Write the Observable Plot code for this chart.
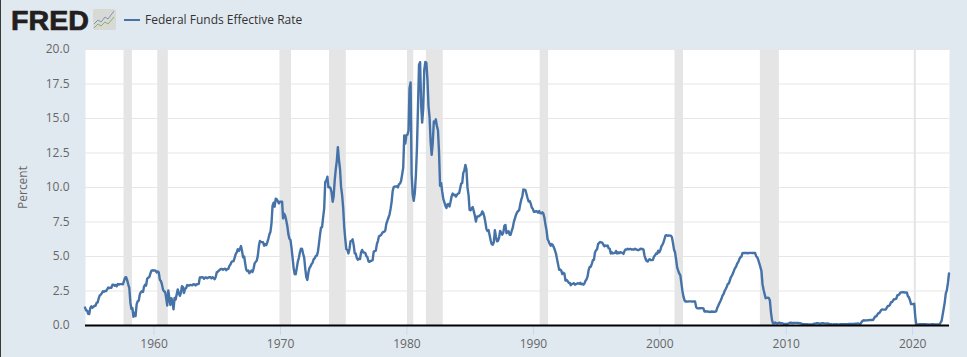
<!DOCTYPE html>
<html>
<head>
<meta charset="utf-8">
<script src="https://cdn.jsdelivr.net/npm/d3@7"></script>
<script src="https://cdn.jsdelivr.net/npm/@observablehq/plot@0.6"></script>
<style>
html,body{margin:0;padding:0;background:#e1e9f0;width:967px;height:357px;overflow:hidden}
#page{position:relative;width:967px;height:357px;background:#e1e9f0;box-sizing:border-box}
#edge{position:absolute;left:0;top:0;width:1px;height:357px;background:#3a3a3a}
#head{position:relative;height:41px}
#fred{position:absolute;left:11px;top:3px;font:bold 27px/36px "Liberation Sans",sans-serif;color:#231f20;-webkit-text-stroke:0.7px #231f20;transform-origin:left top;transform:scaleX(1.06)}
#icon{position:absolute;left:93px;top:9px}
#swatch{position:absolute;left:124px;top:19px;width:16px;height:2px;background:#4572a7}
#legend{position:absolute;left:145px;top:10px;font:12px/20px "Open Sans",sans-serif;color:#333}
#chart svg{display:block;background:transparent;overflow:visible}
</style>
</head>
<body>
<div id="page">
  <div id="edge"></div>
  <div id="head">
    <div id="fred">FRED</div>
    <svg id="icon" width="23" height="21" viewBox="0 0 23 21">
      <rect x="0" y="0" width="23" height="21" rx="2" fill="#d8d9d4"/>
      <polyline points="1,15 5,11 8,13 12,8 15,10 21,2" fill="none" stroke="#7d97b8" stroke-width="1"/>
      <polyline points="1,19 5,15 8,17 12,13 15,15 21,8" fill="none" stroke="#8fae6d" stroke-width="1"/>
    </svg>
    <div id="swatch"></div>
    <div id="legend">Federal Funds Effective Rate</div>
  </div>
  <div id="chart"></div>
</div>
<script>
const seriesName = "Federal Funds Effective Rate";
const yearTicks = [1960,1970,1980,1990,2000,2010,2020];
const valueTicks = [0,2.5,5,7.5,10,12.5,15,17.5,20];
const startYear = 1954, startMonth = 6;
const rates = [
1.30,1.10,1.07,0.85,0.83,1.28,
1.39,1.29,1.35,1.43,1.43,1.64,1.68,1.96,2.18,2.24,2.35,2.48,
2.45,2.50,2.50,2.62,2.75,2.71,2.75,2.73,2.95,2.96,2.88,2.94,
2.84,3.00,2.96,3.00,3.00,3.00,2.99,3.24,3.47,3.50,3.28,2.98,
2.72,1.67,1.20,1.26,0.63,0.93,0.68,1.53,1.76,1.80,2.27,2.42,
2.48,2.43,2.80,2.96,2.90,3.39,3.47,3.50,3.76,3.98,4.00,3.99,
3.99,3.97,3.84,3.92,3.85,3.32,3.23,2.98,2.60,2.47,2.44,1.98,
1.45,2.54,2.02,1.49,1.98,1.73,1.17,2.00,1.88,2.26,2.62,2.33,
2.15,2.37,2.85,2.78,2.36,2.68,2.71,2.93,2.90,2.90,2.94,2.93,
2.92,3.00,2.98,2.90,3.00,2.99,3.02,3.49,3.48,3.50,3.48,3.38,
3.48,3.48,3.43,3.47,3.50,3.50,3.42,3.50,3.45,3.36,3.52,3.85,
3.90,3.98,4.04,4.09,4.10,4.04,4.09,4.12,4.01,4.08,4.10,4.32,
4.42,4.60,4.65,4.67,4.90,5.17,5.30,5.53,5.40,5.53,5.76,5.40,
4.94,5.00,4.53,4.05,3.94,3.98,3.79,3.90,3.99,3.88,4.13,4.51,
4.61,4.71,5.05,5.76,6.12,6.07,6.03,6.03,5.78,5.91,5.82,6.02,
6.30,6.61,6.79,7.41,8.67,8.90,8.61,9.19,9.15,9.00,8.85,8.97,
8.98,8.98,7.76,8.10,7.95,7.61,7.21,6.62,6.29,6.20,5.60,4.90,
4.14,3.72,3.71,4.16,4.63,4.91,5.31,5.57,5.55,5.20,4.91,4.14,
3.51,3.30,3.83,4.17,4.27,4.46,4.55,4.80,4.87,5.04,5.06,5.33,
5.94,6.58,7.09,7.12,7.84,8.49,10.40,10.50,10.78,10.01,10.03,9.95,
9.65,8.97,9.35,10.51,11.31,11.93,12.92,12.01,11.34,10.06,9.45,8.53,
7.13,6.24,5.54,5.49,5.22,5.55,6.10,6.14,6.24,5.82,5.22,5.20,
4.87,4.77,4.84,4.82,5.29,5.48,5.31,5.29,5.25,5.02,4.95,4.65,
4.61,4.68,4.69,4.73,5.35,5.39,5.42,5.90,6.14,6.47,6.51,6.56,
6.70,6.78,6.79,6.89,7.36,7.60,7.81,8.04,8.45,8.96,9.76,10.03,
10.07,10.06,10.09,10.01,10.24,10.29,10.47,10.94,11.43,13.77,13.18,13.78,
13.82,14.13,17.19,17.61,10.98,9.47,9.03,9.61,10.87,12.81,15.85,18.90,
19.08,15.93,14.70,15.72,18.52,19.10,19.04,17.82,15.87,15.08,13.31,12.37,
13.22,14.78,14.68,14.94,14.45,14.15,12.59,10.12,10.31,9.71,9.20,8.95,
8.68,8.51,8.77,8.80,8.63,8.98,9.37,9.56,9.45,9.48,9.34,9.47,
9.56,9.59,9.91,10.29,10.32,11.06,11.23,11.64,11.30,9.99,9.43,8.38,
8.35,8.50,8.58,8.27,7.97,7.53,7.88,7.90,7.92,7.99,8.05,8.27,
8.14,7.86,7.48,6.99,6.85,6.92,6.56,6.17,5.89,5.85,6.04,6.91,
6.43,6.10,6.13,6.37,6.85,6.73,6.58,6.73,7.22,7.29,6.69,6.77,
6.83,6.58,6.58,6.87,7.09,7.51,7.75,8.01,8.19,8.30,8.35,8.76,
9.12,9.36,9.85,9.84,9.81,9.53,9.24,8.99,9.02,8.84,8.55,8.45,
8.23,8.24,8.28,8.26,8.18,8.29,8.15,8.13,8.20,8.11,7.81,7.31,
6.91,6.25,6.12,5.91,5.78,5.90,5.82,5.66,5.45,5.21,4.81,4.43,
4.03,4.06,3.98,3.73,3.82,3.76,3.25,3.30,3.22,3.10,3.09,2.92,
3.02,3.03,3.07,2.96,3.00,3.04,3.06,3.03,3.09,2.99,3.02,2.96,
3.05,3.25,3.34,3.56,4.01,4.25,4.26,4.47,4.73,4.76,5.29,5.45,
5.53,5.92,5.98,6.05,6.01,6.00,5.85,5.74,5.80,5.76,5.80,5.60,
5.56,5.22,5.31,5.22,5.24,5.27,5.40,5.22,5.30,5.24,5.31,5.29,
5.25,5.19,5.39,5.51,5.50,5.56,5.52,5.54,5.54,5.50,5.52,5.50,
5.56,5.51,5.49,5.45,5.49,5.56,5.54,5.55,5.51,5.07,4.83,4.68,
4.63,4.76,4.81,4.74,4.74,4.76,4.99,5.07,5.22,5.20,5.42,5.30,
5.45,5.73,5.85,6.02,6.27,6.53,6.54,6.50,6.52,6.51,6.51,6.40,
5.98,5.49,5.31,4.80,4.21,3.97,3.77,3.65,3.07,2.49,2.09,1.82,
1.73,1.74,1.73,1.75,1.75,1.75,1.73,1.74,1.75,1.75,1.34,1.24,
1.24,1.26,1.25,1.26,1.26,1.22,1.01,1.03,1.01,1.01,1.00,0.98,
1.00,1.01,1.00,1.00,1.00,1.03,1.26,1.43,1.61,1.76,1.93,2.16,
2.28,2.50,2.63,2.79,3.00,3.04,3.26,3.50,3.62,3.78,4.00,4.16,
4.29,4.49,4.59,4.79,4.94,4.99,5.24,5.25,5.25,5.25,5.25,5.24,
5.25,5.26,5.26,5.25,5.25,5.25,5.26,5.02,4.94,4.76,4.49,4.24,
3.94,2.98,2.61,2.28,1.98,2.00,2.01,2.00,1.81,0.97,0.39,0.16,
0.15,0.22,0.18,0.15,0.18,0.21,0.16,0.16,0.15,0.12,0.12,0.12,
0.11,0.13,0.16,0.20,0.20,0.18,0.18,0.19,0.19,0.19,0.19,0.18,
0.17,0.16,0.14,0.10,0.09,0.09,0.07,0.10,0.08,0.07,0.08,0.07,
0.08,0.10,0.13,0.14,0.16,0.16,0.16,0.13,0.14,0.16,0.16,0.16,
0.14,0.15,0.14,0.15,0.11,0.09,0.09,0.08,0.08,0.09,0.08,0.09,
0.07,0.07,0.08,0.09,0.09,0.10,0.09,0.09,0.09,0.09,0.09,0.12,
0.11,0.11,0.11,0.12,0.12,0.13,0.13,0.14,0.14,0.12,0.12,0.24,
0.34,0.38,0.36,0.37,0.37,0.38,0.39,0.40,0.40,0.40,0.41,0.54,
0.65,0.66,0.79,0.90,0.91,1.04,1.15,1.16,1.15,1.15,1.16,1.30,
1.41,1.42,1.51,1.69,1.70,1.82,1.91,1.91,1.95,2.19,2.20,2.27,
2.40,2.40,2.41,2.42,2.39,2.38,2.40,2.13,2.04,1.83,1.55,1.55,
1.55,1.58,0.65,0.05,0.05,0.08,0.09,0.10,0.09,0.09,0.09,0.09,
0.09,0.08,0.07,0.07,0.06,0.08,0.10,0.09,0.08,0.08,0.08,0.08,
0.08,0.08,0.20,0.33,0.77,1.21,1.68,2.33,2.56,3.08,3.78
];
const recessionStarts = ["1957-08","1960-04","1969-12","1973-11","1980-01","1981-07","1990-07","2001-03","2007-12","2020-02"];
const recessionEnds   = ["1958-04","1961-02","1970-11","1975-03","1980-07","1982-11","1991-03","2001-11","2009-06","2020-04"];

const series = rates.map((v,i)=>({date:new Date(Date.UTC(startYear,startMonth+i,1)),value:v}));
const recessions = recessionStarts.map((s,i)=>({start:new Date(s+"-01T00:00Z"),end:new Date(recessionEnds[i]+"-01T00:00Z")}));
const yearDates = yearTicks.map(y=>new Date(Date.UTC(y,0,1)));

const plot = Plot.plot({
  width:967, height:316,
  marginLeft:85, marginRight:18, marginTop:8, marginBottom:32,
  style:{background:"transparent",fontFamily:"'Open Sans',sans-serif",fontSize:"12px",overflow:"visible"},
  x:{type:"utc",domain:[series[0].date,series[series.length-1].date]},
  y:{domain:[0,20]},
  marks:[
    Plot.frame({fill:"#ffffff",stroke:null}),
    Plot.ruleY(valueTicks,{stroke:"#e6e6e6",strokeWidth:1}),
    Plot.rectX(recessions,{x1:"start",x2:"end",fill:"#e5e5e5",dx:-0.5}),
    Plot.axisY({ticks:valueTicks,tickFormat:d3.format(".1f"),tickSize:0,tickPadding:16,fill:"#666666",fontSize:12,
      label:"Percent",labelAnchor:"center",labelArrow:"none",labelOffset:67}),
    Plot.axisX({ticks:yearDates,tickFormat:d=>String(d.getUTCFullYear()),tickSize:10,tickPadding:4,stroke:"#ccd6eb",fill:"#666666",fontSize:12,label:null,dx:-1}),
    Plot.lineY(series,{x:"date",y:"value",stroke:"#4572a7",strokeWidth:2.4,dx:-0.5,title:()=>seriesName}),
    Plot.ruleY([0],{stroke:"#000000",strokeWidth:2.2})
  ]
});
document.getElementById("chart").appendChild(plot);
</script>
</body>
</html>
